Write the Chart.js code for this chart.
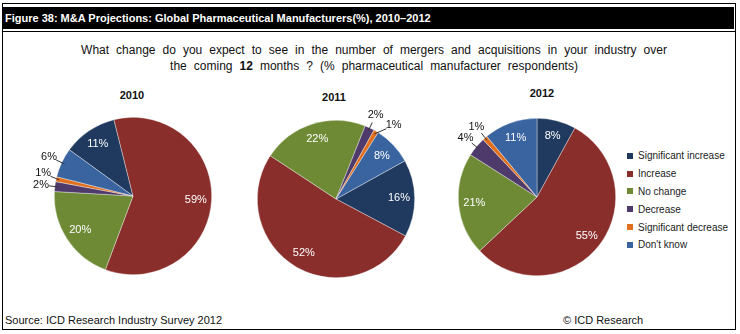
<!DOCTYPE html>
<html>
<head>
<meta charset="utf-8">
<script src="https://cdn.jsdelivr.net/npm/chart.js@4.4.1/dist/chart.umd.min.js"></script>
<style>
    body { margin: 0; width: 740px; height: 334px; background: #fff; position: relative; overflow: hidden;
           font-family: 'Liberation Sans', Arial, sans-serif; color: #111; }
    #frame { position: absolute; left: 2px; top: 3px; width: 732px; height: 325px; border: 1px solid #000; }
    #header { position: absolute; left: 3px; top: 7px; width: 731px; height: 22px; background: #000; color: #fff;
              font-weight: bold; font-size: 11px; line-height: 22px; padding-left: 2px; box-sizing: border-box; }
    #rule { position: absolute; left: 2px; top: 31px; width: 734px; height: 1px; background: #000; }
    #subtitle { position: absolute; left: 0; top: 42px; width: 748px; text-align: center; font-size: 12px;
                line-height: 16px; word-spacing: 3.7px; }
    .pie { position: absolute; width: 240px; height: 240px; }
    .year { position: absolute; width: 60px; text-align: center; font-weight: bold; font-size: 11px; line-height: 13px; }
    #legend { position: absolute; left: 627px; top: 147px; font-size: 10px; color: #222; }
    .item { height: 17.8px; display: flex; align-items: center; white-space: nowrap; }
    .swatch { width: 6px; height: 6px; margin-right: 5px; }
    .foot { position: absolute; top: 314px; font-size: 11px; }
</style>
</head>
<body>
<div id="frame"></div>
<div id="header">Figure 38: M&amp;A Projections: Global Pharmaceutical Manufacturers(%), 2010–2012</div>
<div id="rule"></div>
<div id="subtitle">What change do you expect to see in the number of mergers and acquisitions in your industry over<br>the coming <b>12</b> months ? (% pharmaceutical manufacturer respondents)</div>
<div id="legend"></div>
<div class="foot" style="left:5px">Source: ICD Research Industry Survey 2012</div>
<div class="foot" style="left:563px">© ICD Research</div>

<script>
const categories = ['Significant increase', 'Increase', 'No change', 'Decrease', 'Significant decrease', "Don't know"];
const years = ['2010', '2011', '2012'];
const share2010 = [11, 59, 20, 2, 1, 6];
const share2011 = [16, 52, 22, 2, 1, 8];
const share2012 = [8, 55, 21, 4, 1, 11];
const sliceColors = ['#1F3A5E', '#8A2E2C', '#6E8A35', '#4E3B6C', '#E07020', '#3A64A0'];

// pie centre / title placement and first-slice angle for each year
const pies = [
    { year: years[0], data: share2010, cx: 133, cy: 196, titleX: 132, titleY: 89, rotation: -54 },
    { year: years[1], data: share2011, cx: 336, cy: 199, titleX: 334, titleY: 91, rotation: 61 },
    { year: years[2], data: share2012, cx: 537, cy: 197, titleX: 542, titleY: 87, rotation: 0 }
];

// percentage labels: inside for big slices, outside with a leader line for small ones
const pieLabels = {
    id: 'pieLabels',
    afterDatasetsDraw(chart) {
        const ctx = chart.ctx;
        const meta = chart.getDatasetMeta(0);
        const values = chart.data.datasets[0].data;
        const placed = [];
        ctx.save();
        ctx.font = '11px "Liberation Sans", Arial, sans-serif';
        ctx.textAlign = 'center';
        ctx.textBaseline = 'middle';
        meta.data.forEach((arc, i) => {
            const p = arc.getProps(['x', 'y', 'startAngle', 'endAngle', 'outerRadius'], true);
            const mid = (p.startAngle + p.endAngle) / 2;
            const cos = Math.cos(mid), sin = Math.sin(mid);
            const text = values[i] + '%';
            if (values[i] >= 7) {
                const r = p.outerRadius * 0.8;
                ctx.fillStyle = '#fff';
                ctx.fillText(text, p.x + cos * r, p.y + sin * r);
                return;
            }
            const w = ctx.measureText(text).width + 2;
            const r = p.outerRadius + 14;
            let lx = p.x + cos * r, ly = p.y + sin * r;
            let n = 0;
            while (placed.some(q => Math.abs(q.x - lx) < (q.w + w) / 2 && Math.abs(q.y - ly) < 11) && n++ < 60) {
                lx += -sin;
                ly += cos;
            }
            placed.push({ x: lx, y: ly, w: w });

            const ex = p.x + cos * (p.outerRadius - 3), ey = p.y + sin * (p.outerRadius - 3);
            const dx = lx - ex, dy = ly - ey, d = Math.hypot(dx, dy);
            const gap = 8;
            if (d > gap + 2) {
                ctx.strokeStyle = '#333';
                ctx.lineWidth = 1;
                ctx.beginPath();
                ctx.moveTo(ex, ey);
                ctx.lineTo(lx - dx / d * gap, ly - dy / d * gap);
                ctx.stroke();
            }
            ctx.fillStyle = '#111';
            ctx.fillText(text, lx, ly);
        });
        ctx.restore();
    }
};

// legend
const legendEl = document.getElementById('legend');
categories.forEach((name, i) => {
    const item = document.createElement('div');
    item.className = 'item';
    item.innerHTML = '<span class="swatch" style="background:' + sliceColors[i] + '"></span>' + name;
    legendEl.appendChild(item);
});

pies.forEach(cfg => {
    const title = document.createElement('div');
    title.className = 'year';
    title.style.left = (cfg.titleX - 30) + 'px';
    title.style.top = cfg.titleY + 'px';
    title.textContent = cfg.year;
    document.body.appendChild(title);

    const box = document.createElement('div');
    box.className = 'pie';
    box.style.left = (cfg.cx - 120) + 'px';
    box.style.top = (cfg.cy - 120) + 'px';
    const canvas = document.createElement('canvas');
    box.appendChild(canvas);
    document.body.appendChild(box);

    new Chart(canvas, {
        type: 'pie',
        data: {
            labels: categories,
            datasets: [{
                data: cfg.data,
                backgroundColor: sliceColors,
                borderColor: 'rgba(255,255,255,0.6)',
                borderWidth: 0.6
            }]
        },
        options: {
            responsive: true,
            maintainAspectRatio: false,
            animation: false,
            rotation: cfg.rotation,
            layout: { padding: 41 },
            plugins: {
                legend: { display: false },
                tooltip: { enabled: false }
            }
        },
        plugins: [pieLabels]
    });
});
</script>
</body>
</html>
